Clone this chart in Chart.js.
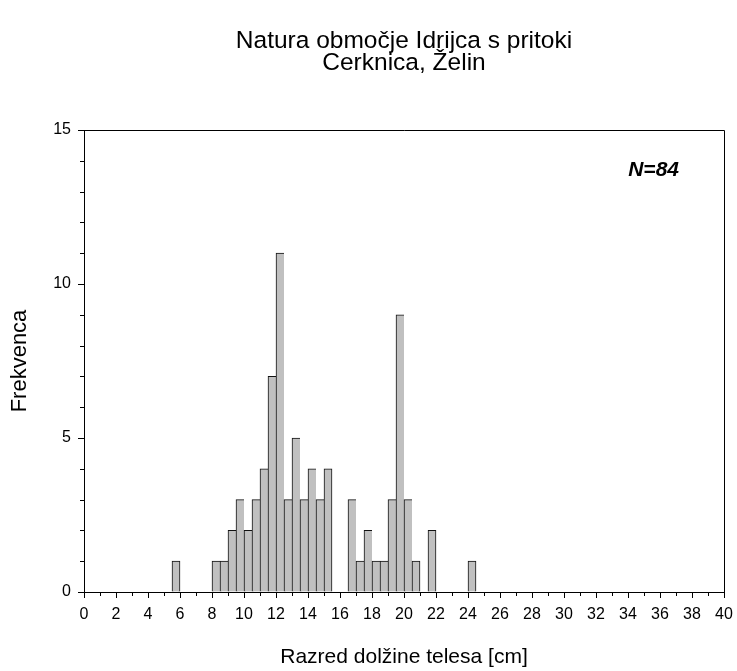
<!DOCTYPE html>
<html>
<head>
<meta charset="utf-8">
<script src="https://cdn.jsdelivr.net/npm/chart.js@4/dist/chart.umd.min.js"></script>
<style>
  html, body { margin: 0; padding: 0; background: #fff; }
  #c { display: block; }
</style>
</head>
<body>
<canvas id="c" width="737" height="671"></canvas>
<script>
// ---- data (0.5 cm length classes: lower bin edge in cm, frequency) ----
const binStarts = [5.5, 8, 8.5, 9, 9.5, 10, 10.5, 11, 11.5, 12, 12.5, 13, 13.5, 14, 14.5, 15,
                   16.5, 17, 17.5, 18, 18.5, 19, 19.5, 20, 20.5, 21.5, 24];
const counts    = [1, 1, 1, 2, 3, 2, 3, 4, 7, 11, 3, 5, 3, 4, 3, 4,
                   3, 1, 2, 1, 1, 3, 9, 3, 1, 2, 1];
const binWidth = 0.5;
const titleLines = ['Natura območje Idrijca s pritoki', 'Cerknica, Želin'];
const xTitle = 'Razred dolžine telesa [cm]';
const yTitle = 'Frekvenca';
const nLabel = 'N=84';
const nLabelPos = { x: 35.6, y: 13.7 };
const xRange = [0, 40], xMajorStep = 2, xMinorStep = 1;
const yRange = [0, 15], yMajorStep = 5, yMinorStep = 1;

const FONT = 'Arial, "Liberation Sans", Helvetica, sans-serif';
Chart.defaults.font.family = FONT;
Chart.defaults.color = '#000';

const points = binStarts.map((s, i) => ({ x: s + binWidth / 2, y: counts[i] }));

const framePlugin = {
  id: 'frame',
  afterDraw(chart) {
    const { ctx, chartArea: a, scales: { x, y } } = chart;
    ctx.save();
    ctx.strokeStyle = '#000';
    ctx.lineWidth = 1;
    ctx.beginPath();
    ctx.moveTo(a.left, a.top + 0.5);
    ctx.lineTo(a.right + 0.5, a.top + 0.5);
    ctx.lineTo(a.right + 0.5, a.bottom);
    for (let v = xRange[0]; v <= xRange[1]; v += xMinorStep) {
      if (v % xMajorStep === 0) continue;
      const px = Math.round(x.getPixelForValue(v)) + 0.5;
      ctx.moveTo(px, a.bottom);
      ctx.lineTo(px, a.bottom + 4);
    }
    for (let v = yRange[0]; v <= yRange[1]; v += yMinorStep) {
      if (v % yMajorStep === 0) continue;
      const py = Math.round(y.getPixelForValue(v)) + 0.5;
      ctx.moveTo(a.left - 4, py);
      ctx.lineTo(a.left, py);
    }
    ctx.stroke();
    // title, centred over the plot area
    ctx.fillStyle = '#000';
    ctx.textAlign = 'center';
    ctx.textBaseline = 'middle';
    ctx.font = '24.5px ' + FONT;
    const cx = (a.left + a.right) / 2;
    titleLines.forEach((t, i) => ctx.fillText(t, cx, 41 + i * 22));
    // N label
    ctx.font = 'italic bold 21px ' + FONT;
    ctx.fillText(nLabel, x.getPixelForValue(nLabelPos.x), y.getPixelForValue(nLabelPos.y));
    ctx.restore();
  }
};

const hasBin = s => binStarts.some(b => Math.abs(b - s) < 1e-9);

new Chart(document.getElementById('c'), {
  type: 'bar',
  data: {
    datasets: [{
      data: points,
      backgroundColor: '#c0c0c0',
      borderColor: '#111',
      borderSkipped: false,
      borderWidth: ctx => ({
        left: 1, top: 1, bottom: 0,
        right: hasBin(binStarts[ctx.dataIndex] + binWidth) ? 0 : 1
      }),
      barPercentage: 1,
      categoryPercentage: 1
    }]
  },
  options: {
    responsive: false,
    animation: false,
    events: [],
    layout: { padding: { top: 130, right: 13, bottom: 0, left: 0 } },
    plugins: {
      legend: { display: false },
      tooltip: { enabled: false },
      title: { display: false }
    },
    scales: {
      x: {
        type: 'linear',
        min: xRange[0], max: xRange[1],
        offset: false,
        grid: { display: true, offset: false, drawOnChartArea: false, drawTicks: true, tickLength: 6, tickColor: '#000', tickWidth: 1 },
        border: { display: true, color: '#000', width: 1 },
        ticks: { stepSize: xMajorStep, autoSkip: false, maxRotation: 0, font: { size: 16 }, padding: 7, color: '#000' },
        title: { display: true, text: xTitle, font: { size: 21 }, color: '#000', padding: { top: 0, bottom: 1 } },
        afterFit(scale) { scale.height = 79; scale.paddingRight = 0; scale.paddingLeft = 0; }
      },
      y: {
        type: 'linear',
        min: yRange[0], max: yRange[1],
        grid: { display: true, drawOnChartArea: false, drawTicks: true, tickLength: 6, tickColor: '#000', tickWidth: 1 },
        border: { display: true, color: '#000', width: 1 },
        ticks: { stepSize: yMajorStep, font: { size: 16 }, padding: 7, color: '#000' },
        title: { display: true, text: yTitle, font: { size: 22 }, color: '#000', padding: { top: 7, bottom: 0 } },
        afterFit(scale) { scale.width = 84; scale.paddingTop = 0; scale.paddingBottom = 0; }
      }
    }
  },
  plugins: [framePlugin]
});
</script>
</body>
</html>
